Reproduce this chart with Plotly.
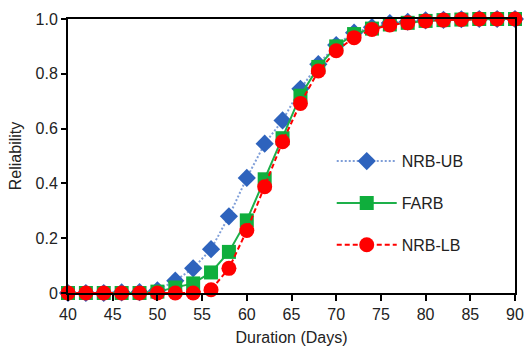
import plotly.graph_objects as go

days = list(range(40, 91, 2))

nrb_ub = [0, 0, 0, 0.002, 0.003, 0.01, 0.045, 0.09, 0.16, 0.28, 0.42, 0.545, 0.63,
          0.745, 0.835, 0.905, 0.95, 0.97, 0.985, 0.99, 0.995, 0.997, 0.999, 1.0, 1.0, 1.0]
farb = [0, 0, 0, 0, 0, 0.005, 0.02, 0.035, 0.075, 0.15, 0.265, 0.415, 0.565,
        0.72, 0.825, 0.9, 0.945, 0.965, 0.98, 0.986, 0.993, 0.996, 0.998, 1.0, 1.0, 1.0]
nrb_lb = [0, 0, 0, 0, 0, 0, 0, 0, 0.012, 0.09, 0.228, 0.388, 0.552,
          0.692, 0.81, 0.884, 0.932, 0.962, 0.978, 0.986, 0.993, 0.996, 0.998, 1.0, 1.0, 1.0]

x_ticks = [40, 45, 50, 55, 60, 65, 70, 75, 80, 85, 90]
y_ticks = [0, 0.2, 0.4, 0.6, 0.8, 1.0]
y_labels = ["0", "0.2", "0.4", "0.6", "0.8", "1.0"]

FONT = "Liberation Sans, Arial, sans-serif"

fig = go.Figure()
fig.add_trace(go.Scatter(
    x=days, y=nrb_ub, name="NRB-UB", mode="lines+markers", legendgroup="a",
    line=dict(color="#7f9ed8", width=2, dash="2px,2px"),
    marker=dict(symbol="diamond", size=14, color="#2e63bd"),
    cliponaxis=False))
fig.add_trace(go.Scatter(
    x=days, y=farb, name="FARB", mode="lines+markers", legendgroup="b",
    line=dict(color="#1db04a", width=2),
    marker=dict(symbol="square", size=14, color="#0fae3c"),
    cliponaxis=False))
fig.add_trace(go.Scatter(
    x=days, y=nrb_lb, name="NRB-LB", mode="lines+markers", legendgroup="c",
    line=dict(color="#ff0000", width=2, dash="5px,3px"),
    marker=dict(symbol="circle", size=15, color="#ff0000"),
    cliponaxis=False))

fig.update_layout(
    width=524, height=346,
    margin=dict(l=68, r=9, t=19, b=53),
    paper_bgcolor="white", plot_bgcolor="white",
    font=dict(family=FONT, size=16, color="#222222"),
    showlegend=True,
    legend=dict(x=0.59, y=0.543, xanchor="left", yanchor="top",
                bgcolor="rgba(0,0,0,0)", tracegroupgap=18, itemwidth=60,
                font=dict(family=FONT, size=16, color="#222222")),
    xaxis=dict(range=[40, 90], tickvals=x_ticks, showgrid=False, zeroline=False,
               showline=True, linecolor="black", linewidth=2, mirror=True,
               ticks="outside", ticklen=6, tickwidth=2, tickcolor="black",
               automargin=False, ticklabeloverflow="allow",
               tickfont=dict(family=FONT, size=16, color="#222222"),
               title=dict(text="Duration (Days)", standoff=10,
                          font=dict(family=FONT, size=16))),
    yaxis=dict(range=[0, 1], tickvals=y_ticks, ticktext=y_labels, showgrid=False,
               zeroline=False, showline=True, linecolor="black", linewidth=2,
               mirror=True, ticks="outside", ticklen=5, tickwidth=2, tickcolor="black",
               automargin=False, ticklabeloverflow="allow",
               tickfont=dict(family=FONT, size=16, color="#222222"),
               title=dict(text="Reliability", standoff=10,
                          font=dict(family=FONT, size=16))),
)

fig.write_html("out.html")
